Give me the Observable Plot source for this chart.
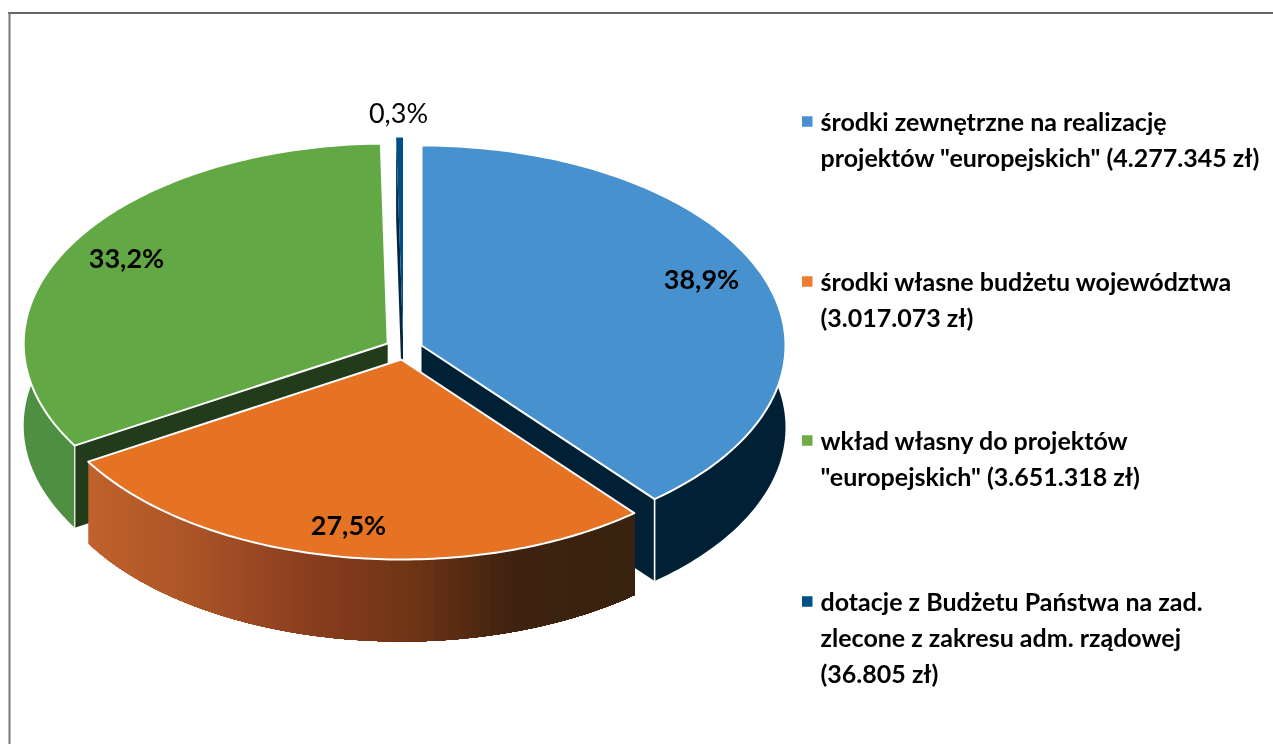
<!DOCTYPE html>
<html lang="pl">
<head>
<meta charset="utf-8">
<script src="https://cdn.jsdelivr.net/npm/d3@7"></script>
<script src="https://cdn.jsdelivr.net/npm/@observablehq/plot@0.6"></script>
<style>html,body{margin:0;padding:0;background:#fff}svg{display:block}</style>
</head>
<body>
<div id="chart"></div>
<script>
// Data
const percents = [38.9, 27.5, 33.2, 0.3];
const percentLabels = ["38,9%", "27,5%", "33,2%", "0,3%"];
const legendLines = [
  ["środki zewnętrzne na realizację", "projektów \"europejskich\" (4.277.345 zł)"],
  ["środki własne budżetu województwa", "(3.017.073 zł)"],
  ["wkład własny do projektów", "\"europejskich\" (3.651.318 zł)"],
  ["dotacje z Budżetu Państwa na zad.", "zlecone z zakresu adm. rządowej", "(36.805 zł)"]
];

// Styles
const topColors = ["#4791ce", "#e67324", "#62a845", "#004f88"];
const swatchColors = ["#4a90d0", "#ed7d31", "#6fac46", "#004f88"];
const wallColors = ["#002035", null, "#4f8f42", "#04263f"];
const innerWallColors = ["#002035", null, "#223b1b", "#04263f"];

// Layout
const W = 1273, H = 744, rx = 364, ry = 200, depth = 82;
const apexX = [421, 400.7, 387.2, 402.5];
const apexY = [345, 359, 343, 337];
const labelX = [701, 348, 126, 398];
const labelY = [280, 526, 259, 114];
const legendTextX = 820, swatchX = 802, swatchSize = 10.5;
const legendY = [122, 282, 441, 602];
const legendStep = 36;
const orangeRamp = d3.scaleLinear()
  .domain([87, 200, 300, 420, 510, 635])
  .range(["#c1622b", "#aa5327", "#8c3f1f", "#6d3315", "#3f2310", "#38220f"]);

const total = d3.sum(percents);
let acc = 0;
const slices = percents.map((p, i) => {
  const a0 = acc / total * 360; acc += p; const a1 = acc / total * 360;
  return {i, a0, a1};
});
const pt = (i, a, dz = 0) => {
  const t = a * Math.PI / 180;
  return {x: apexX[i] + rx * Math.sin(t), y: apexY[i] - ry * Math.cos(t) + dz};
};
const arc = (i, a0, a1, dz = 0) => {
  const n = Math.max(2, Math.ceil(Math.abs(a1 - a0)));
  return d3.range(n + 1).map(k => pt(i, a0 + (a1 - a0) * k / n, dz));
};
const topShape = s => [{x: apexX[s.i], y: apexY[s.i]}, ...arc(s.i, s.a0, s.a1), {x: apexX[s.i], y: apexY[s.i]}];
const outerWall = s => [...arc(s.i, s.a0, s.a1), ...arc(s.i, s.a1, s.a0, depth)];
const innerWall = (s, a) => {
  const e = pt(s.i, a), c = {x: apexX[s.i], y: apexY[s.i]};
  return [c, e, {x: e.x, y: e.y + depth}, {x: c.x, y: c.y + depth}, c];
};
const poly = (points, fill, stroke, strokeWidth = 0) =>
  Plot.line(points, {x: "x", y: "y", fill, stroke: stroke || "none", strokeWidth, strokeLinejoin: "round", curve: "linear"});

const [blue, orange, green, sliver] = slices;

// Orange outer wall as overlapping strips (painted from the shaded right end
// back over the left) carrying the banded shading, with no seams between them
const orangeStrips = [];
const bandStep = 1;
for (let a = orange.a1 - bandStep; a > orange.a0 - bandStep; a -= bandStep) {
  const lo = Math.max(a, orange.a0), hi = orange.a1;
  const mid = pt(1, lo + bandStep / 2).x;
  const c = orangeRamp(mid);
  const p = arc(1, orange.a0, Math.min(lo + bandStep + 0.4, hi));
  const q = arc(1, Math.min(lo + bandStep + 0.4, hi), orange.a0, depth);
  [...p, ...q].forEach(d => orangeStrips.push({...d, z: a, c}));
}
// orange.a1 is the left end of the wall: sort so the strip reaching furthest left is drawn first
const stripOrder = d3.groups(orangeStrips, d => d.z).sort((m, n) => n[0] - m[0]).flatMap(g => g[1]);

// Corner highlights
const blueCorner = pt(0, blue.a1), greenCorner = pt(2, green.a0);

// Legend rows
const legendRows = legendLines.flatMap((lines, i) =>
  lines.map((text, j) => ({text, y: legendY[i] + j * legendStep})));
const swatches = legendY.map((y, i) => ({y, c: swatchColors[i]}));

const font = {fontFamily: "Lato, 'Noto Sans', sans-serif", fill: "#000", imageFilter: "blur(0.45px)"};

const chart = Plot.plot({
  width: W, height: H, margin: 0,
  x: {domain: [0, W], range: [0, W], axis: null},
  y: {domain: [0, H], range: [0, H], axis: null},
  color: {type: "identity"},
  style: {background: "#fff"},
  marks: [
    Plot.ruleY([12.5], {x1: 8, x2: W, stroke: "#333", strokeWidth: 1.3}),
    Plot.ruleX([9], {y1: 12, y2: H, stroke: "#777", strokeWidth: 2}),

    poly(outerWall(blue), wallColors[0]),
    poly(innerWall(blue, blue.a1), innerWallColors[0]),
    Plot.link([blueCorner], {x1: "x", x2: "x", y1: "y", y2: d => d.y + depth, stroke: "#fff", strokeWidth: 1.6}),
    poly(topShape(blue), topColors[0], "#fff", 2),

    poly(outerWall(green), wallColors[2]),
    poly(innerWall(green, green.a0), innerWallColors[2]),
    Plot.link([greenCorner], {x1: "x", x2: "x", y1: "y", y2: d => d.y + depth, stroke: "#fff", strokeWidth: 1.2}),
    poly(topShape(green), topColors[2], "#fff", 2),

    poly(innerWall(sliver, sliver.a0), innerWallColors[3]),
    poly(topShape(sliver), topColors[3]),

    Plot.line(stripOrder, {x: "x", y: "y", z: "z", fill: "c", stroke: "none"}),
    poly(topShape(orange), topColors[1], "#fff", 2),

    Plot.text(percentLabels.slice(0, 3), {
      x: (d, i) => labelX[i], y: (d, i) => labelY[i], text: d => d,
      fontSize: 27, fontWeight: 700, ...font, lineAnchor: "middle"
    }),
    Plot.text(percentLabels.slice(3), {
      x: labelX[3], y: labelY[3], text: d => d,
      fontSize: 27, fontWeight: 400, ...font, lineAnchor: "middle"
    }),

    Plot.rect(swatches, {
      x1: swatchX, x2: swatchX + swatchSize,
      y1: d => d.y - swatchSize / 2 - 0.5, y2: d => d.y + swatchSize / 2 - 0.5,
      fill: "c"
    }),
    Plot.text(legendRows, {
      x: legendTextX, y: "y", text: "text", textAnchor: "start", lineAnchor: "middle",
      fontSize: 25, fontWeight: 700, ...font
    })
  ]
});
document.getElementById("chart").append(chart);
</script>
</body>
</html>
